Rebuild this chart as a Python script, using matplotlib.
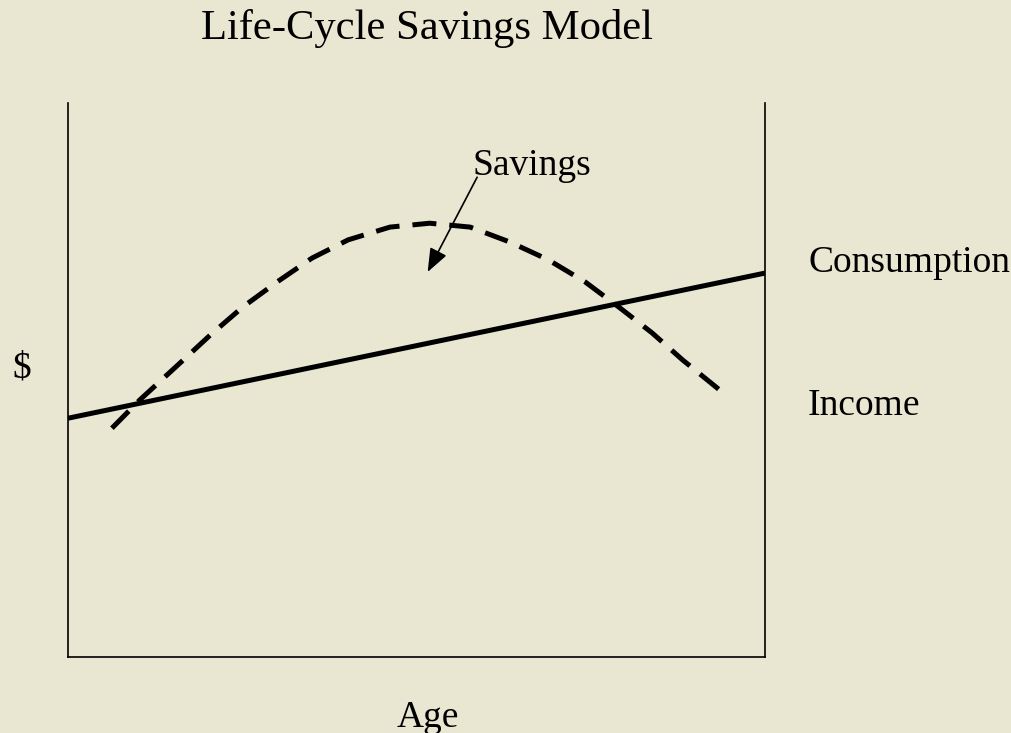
import matplotlib
matplotlib.use("Agg")
import matplotlib.pyplot as plt

# life-cycle sketch, values on a 0-100 scale
age_line = [0, 100]
line_vals = [43.1, 69.3]

age_curve = [6.3, 10.3, 16.1, 20.4, 25.1, 30.0, 35.0, 40.2, 46.2, 51.9,
             57.7, 63.4, 68.9, 74.2, 79.2, 83.8, 88.2, 93.1, 94.3]
curve_vals = [41.3, 46.4, 53.1, 58.1, 63.2, 67.7, 72.0, 75.3, 77.6, 78.3,
              77.6, 74.9, 71.7, 67.7, 63.0, 58.5, 53.6, 48.6, 47.3]

arrow_tail = (58.7, 86.6)
arrow_head = (51.6, 69.5)

bg = "#E9E6D1"
W, H = 1012, 733
plt.rcParams['font.family'] = ['Liberation Serif', 'DejaVu Serif']

fig = plt.figure(figsize=(W / 100, H / 100), dpi=100, facecolor=bg)
ax = fig.add_axes([68 / W, (H - 657) / H, 697 / W, 554 / H])
ax.set_facecolor(bg)

ax.plot(age_line, line_vals, color="black", lw=3.6, solid_capstyle="butt")
ax.plot(age_curve, curve_vals, color="black", lw=3.6,
        linestyle=(0, (4.8, 2.6)))

ax.annotate("", xy=arrow_head, xytext=arrow_tail,
            arrowprops=dict(arrowstyle="-|>,head_length=0.9,head_width=0.35",
                            color="black", lw=1.2, shrinkA=0, shrinkB=0,
                            mutation_scale=16))

ax.set_xlim(0, 100)
ax.set_ylim(0, 100)
ax.set_xticks([])
ax.set_yticks([])
ax.spines['top'].set_visible(False)
for s in ['left', 'bottom', 'right']:
    ax.spines[s].set_linewidth(1.2)
    ax.spines[s].set_color("black")


def ftext(px, py, s, size, ha="left"):
    fig.text(px / W, 1 - py / H, s, fontsize=size, ha=ha, va="baseline",
             color="black")


ftext(427, 39, "Life-Cycle Savings Model", 30.7, ha="center")
ftext(473, 175, "Savings", 27)
ftext(808, 272, "Consumption", 27)
ftext(808, 415, "Income", 27)
ftext(22, 378, "$", 27, ha="center")
ftext(428, 727, "Age", 27, ha="center")

fig.savefig("out.png", dpi=100, facecolor=bg)
